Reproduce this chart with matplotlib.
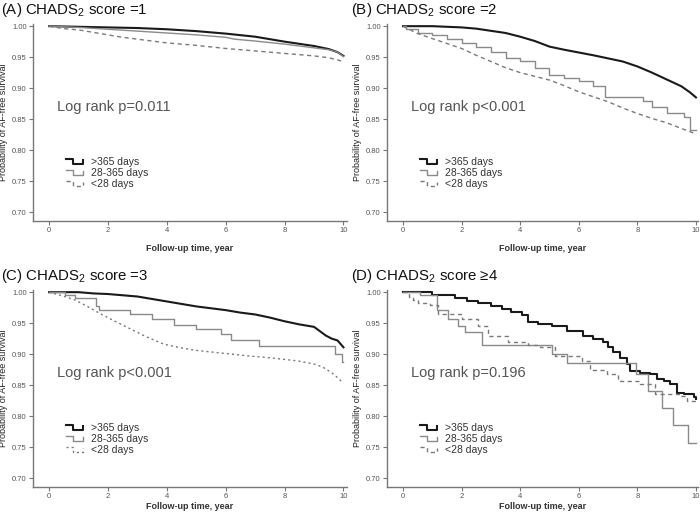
import matplotlib
matplotlib.use("Agg")
import matplotlib.pyplot as plt
from matplotlib.legend_handler import HandlerLine2D
from matplotlib.lines import Line2D

plt.rcParams['font.family'] = ['Liberation Sans', 'DejaVu Sans']
plt.rcParams['mathtext.fontset'] = 'custom'
plt.rcParams['mathtext.rm'] = 'Liberation Sans'

# time (years) and survival after each step, per panel and group
# >365 days / 28-365 days / <28 days
a_long_t = [0, 1, 2, 3, 4, 5, 6, 7, 8, 9, 9.5, 9.8, 10]
a_long_s = [1.0, 0.999, 0.998, 0.997, 0.995, 0.992, 0.988, 0.983, 0.975, 0.968, 0.963, 0.958, 0.952]
a_mid_t = [0, 0.5, 1, 2, 3, 4, 5, 6, 6.3, 7, 8, 9, 9.5, 9.8, 10]
a_mid_s = [1.0, 0.999, 0.998, 0.995, 0.992, 0.989, 0.986, 0.982, 0.979, 0.976, 0.971, 0.965, 0.962, 0.958, 0.951]
a_short_t = [0, 0.5, 1, 1.5, 2, 2.5, 3, 3.5, 4, 5, 6, 7, 8, 9, 9.5, 10]
a_short_s = [1.0, 0.996, 0.994, 0.990, 0.986, 0.982, 0.979, 0.976, 0.973, 0.969, 0.964, 0.960, 0.956, 0.952, 0.949, 0.943]

b_long_t = [0, 1, 1.5, 2, 2.5, 3, 3.5, 4, 4.5, 5, 5.5, 6, 6.5, 7, 7.5, 8, 8.5, 9, 9.5, 9.8, 10]
b_long_s = [1.0, 1.0, 0.999, 0.998, 0.996, 0.9925, 0.989, 0.983, 0.976, 0.967, 0.962, 0.9575, 0.953, 0.948,
            0.943, 0.935, 0.925, 0.914, 0.903, 0.893, 0.885]
b_mid_t = [0, 0.1, 0.5, 1, 1.5, 2, 2.5, 3, 3.5, 4, 4.5, 5, 5.5, 6, 6.5, 6.9, 8.2, 8.5, 9, 9.6, 9.8, 10]
b_mid_s = [1.0, 0.996, 0.989, 0.985, 0.980, 0.973, 0.967, 0.958, 0.948, 0.943, 0.932, 0.921, 0.917, 0.911,
           0.903, 0.885, 0.880, 0.869, 0.860, 0.854, 0.833, 0.833]
b_short_t = [0, 0.5, 1, 1.5, 2, 2.5, 3, 3.5, 4, 4.5, 5, 5.5, 6, 6.5, 7, 7.5, 8, 8.5, 9, 9.5, 10]
b_short_s = [1.0, 0.988, 0.980, 0.972, 0.964, 0.953, 0.943, 0.933, 0.925, 0.919, 0.913, 0.904, 0.894, 0.886,
             0.878, 0.868, 0.859, 0.851, 0.844, 0.835, 0.826]

c_long_t = [0, 1, 1.5, 2, 2.5, 3, 3.5, 4, 4.5, 5, 5.5, 6, 6.5, 7, 7.5, 8, 8.5, 9, 9.2, 9.4, 9.6, 9.8, 10]
c_long_s = [1.0, 1.0, 0.998, 0.997, 0.995, 0.993, 0.989, 0.985, 0.981, 0.977, 0.974, 0.971, 0.967, 0.964,
            0.959, 0.953, 0.948, 0.944, 0.937, 0.930, 0.925, 0.922, 0.911]
c_mid_t = [0, 0.55, 0.89, 1.6, 1.7, 2.76, 3.5, 4.24, 4.98, 5.84, 6.18, 7.13, 9.71, 9.94, 10]
c_mid_s = [1.0, 0.996, 0.990, 0.978, 0.972, 0.964, 0.956, 0.947, 0.941, 0.932, 0.922, 0.913, 0.900, 0.888, 0.888]
c_short_t = [0, 0.3, 0.6, 0.9, 1.3, 1.75, 2.2, 2.75, 3.3, 3.9, 4.5, 5, 5.6, 6.2, 6.8, 7.3, 7.9, 8.45, 9.0,
             9.3, 9.6, 9.8, 10]
c_short_s = [1.0, 0.996, 0.992, 0.987, 0.977, 0.965, 0.954, 0.941, 0.928, 0.916, 0.910, 0.906, 0.903, 0.900,
             0.897, 0.895, 0.892, 0.889, 0.884, 0.879, 0.870, 0.862, 0.853]

d_long_t = [0, 0.98, 1.77, 2.2, 2.57, 3.0, 3.37, 3.7, 4.05, 4.27, 4.6, 5.07, 5.59, 6.15, 6.5, 6.84, 7.0, 7.18,
            7.4, 7.63, 7.75, 8.1, 8.43, 8.66, 8.9, 9.11, 9.34, 9.6, 9.93, 10]
d_long_s = [1.0, 0.995, 0.990, 0.986, 0.982, 0.977, 0.973, 0.968, 0.963, 0.952, 0.949, 0.946, 0.938, 0.930,
            0.925, 0.919, 0.912, 0.903, 0.894, 0.884, 0.873, 0.870, 0.868, 0.860, 0.856, 0.851, 0.838, 0.835,
            0.830, 0.828]
d_mid_t = [0, 0.58, 1.15, 1.55, 1.89, 2.12, 2.71, 5.07, 5.59, 7.97, 8.37, 8.83, 9.2, 9.72, 10]
d_mid_s = [1.0, 0.995, 0.971, 0.957, 0.946, 0.935, 0.915, 0.900, 0.8855, 0.868, 0.840, 0.813, 0.786, 0.756, 0.756]
d_short_t = [0, 0.2, 0.35, 0.52, 0.92, 1.2, 2.0, 2.57, 2.91, 3.6, 4.28, 4.68, 5.19, 6.1, 6.38, 6.95, 7.35,
             8.09, 8.6, 9.45, 9.68, 10]
d_short_s = [1.0, 0.993, 0.987, 0.982, 0.979, 0.965, 0.957, 0.946, 0.930, 0.919, 0.915, 0.911, 0.897, 0.889,
             0.874, 0.868, 0.856, 0.851, 0.835, 0.832, 0.824, 0.823]

titles = ["(A) CHADS$_2$ score =1", "(B) CHADS$_2$ score =2",
          "(C) CHADS$_2$ score =3", "(D) CHADS$_2$ score \u22654"]
pvals = ["Log rank p=0.011", "Log rank p<0.001", "Log rank p<0.001", "Log rank p=0.196"]
labels = [">365 days", "28-365 days", "<28 days"]
yticks = [0.70, 0.75, 0.80, 0.85, 0.90, 0.95, 1.00]
xticks = [0, 2, 4, 6, 8, 10]

panels = [
    (a_long_t, a_long_s, a_mid_t, a_mid_s, a_short_t, a_short_s),
    (b_long_t, b_long_s, b_mid_t, b_mid_s, b_short_t, b_short_s),
    (c_long_t, c_long_s, c_mid_t, c_mid_s, c_short_t, c_short_s),
    (d_long_t, d_long_s, d_mid_t, d_mid_s, d_short_t, d_short_s),
]
# curves with many small events look smooth in the original; draw those as lines
stepped = [
    (False, False, False),
    (False, True, False),
    (False, True, False),
    (True, True, True),
]


class StepHandler(HandlerLine2D):
    # small KM-style step glyph for the legend
    def create_artists(self, legend, orig_handle, xdescent, ydescent, width, height, fontsize, trans):
        x0, w = -xdescent, width
        yt, yb = height * 0.75 - ydescent, height * 0.15 - ydescent
        line = Line2D([x0, x0 + 0.4 * w, x0 + 0.4 * w, x0 + 0.9 * w, x0 + 0.9 * w],
                      [yt, yt, yb, yb, yt * 0.8 + yb * 0.2])
        self.update_prop(line, orig_handle, legend)
        line.set_transform(trans)
        return [line]


W, H = 700, 517
fig = plt.figure(figsize=(7.0, 5.17), dpi=100)
boxes = [(33, 221, 314), (387, 221, 311), (33, 487, 314), (387, 487, 311)]
title_pos = [(1, 14), (351, 14), (1, 280), (351, 280)]
xlabel_pad = [7, 7, 1, 1]

styles = [dict(color='#1a1a1a', lw=1.5, ls='-'),
          dict(color='#8a8a8a', lw=1.0, ls='-'),
          dict(color='#7a7a7a', lw=1.0, ls=(0, (3, 2.5)))]

for i, data in enumerate(panels):
    left, bottom, width = boxes[i]
    ax = fig.add_axes([left / W, 1 - bottom / H, width / W, 197 / H])
    handles = []
    for k in range(3):
        t, s = data[2 * k], data[2 * k + 1]
        st = dict(styles[k])
        if k == 2 and i == 2:
            st['ls'] = (0, (1.5, 2.2))
        h, = ax.plot(t, s, drawstyle='steps-post' if stepped[i][k] else 'default',
                     label=labels[k], **st)
        handles.append(h)
    ax.set_ylim(0.6855, 1.0035)
    ax.set_xlim(-0.546, 10.12 if i % 2 == 0 else 10.07)
    ax.set_yticks(yticks)
    ax.set_yticklabels([f"{v:.2f}" for v in yticks])
    ax.set_xticks(xticks)
    for sp in ['top', 'right']:
        ax.spines[sp].set_visible(False)
    for sp in ['left', 'bottom']:
        ax.spines[sp].set_color('#777777')
        ax.spines[sp].set_linewidth(1.0)
    ax.tick_params(axis='both', labelsize=5.5, colors='#777777', labelcolor='#555555',
                   length=3, width=0.8, pad=1.5)
    ax.set_ylabel("Probability of AF-free survival", fontsize=6.5, color='#222222', labelpad=3)
    ax.set_xlabel("Follow-up time, year", fontsize=6.5, fontweight='bold', color='#333333',
                  labelpad=xlabel_pad[i])
    ax.text(0.27, 0.870, pvals[i], fontsize=10.5, color='#555555', va='center', ha='left')
    ax.legend(handles=handles, loc='center left', bbox_to_anchor=(0.105, 0.245), frameon=False,
              fontsize=7.5, handlelength=1.8, handletextpad=0.6, labelspacing=0.1,
              borderpad=0, borderaxespad=0, labelcolor='#333333',
              handler_map={Line2D: StepHandler()})
    tx, ty = title_pos[i]
    fig.text(tx / W, 1 - ty / H, titles[i], fontsize=10.8, color='#111111', ha='left', va='baseline')

fig.savefig("out.png", dpi=100)
